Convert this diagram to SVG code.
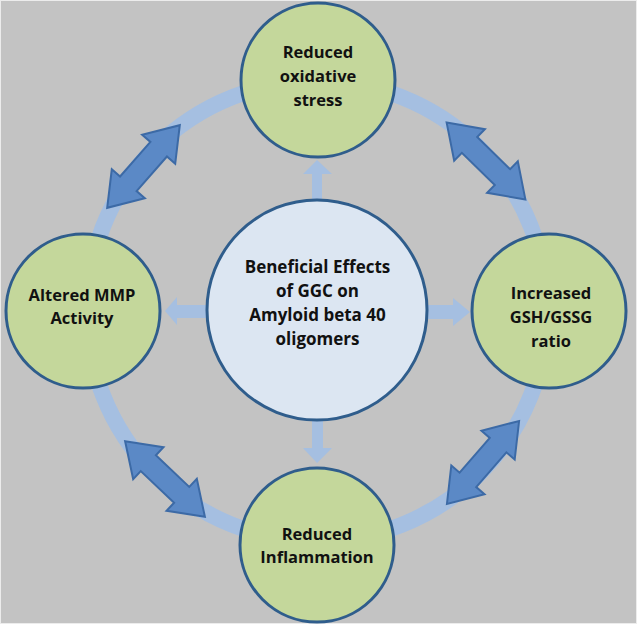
<svg xmlns="http://www.w3.org/2000/svg" width="638" height="625" viewBox="0 0 638 625">
  <defs>
    <style>
      .node { stroke: #2f5d8c; stroke-width: 3; }
      .green { fill: #c4d79b; }
      .center { fill: #dce6f2; }
      .lbl { font-family: "Open Sans", "Noto Sans", "Liberation Sans", sans-serif; font-weight: bold; fill: #111; text-anchor: middle; }
      .small { font-size: 16.5px; }
      .big { font-size: 17px; }
      .light { fill: #a5bfe1; }
      .dbl { fill: #5b89c6; stroke: #3c6aa6; stroke-width: 2; stroke-linejoin: miter; }
    </style>
    <path id="dblarrow" d="M -55 0 L -23 -22 L -23 -11 L 23 -11 L 23 -22 L 55 0 L 23 22 L 23 11 L -23 11 L -23 22 Z"/>
  </defs>

  <rect x="0.5" y="0.5" width="636" height="623" fill="#c3c3c3" stroke="#ececec" stroke-width="1"/>

  <g id="connectors">
    <circle cx="317" cy="311" r="230" fill="none" stroke="#a5bfe1" stroke-width="16"/>
    <path class="light" d="M 312 200 L 312 174 L 303 174 L 317 160 L 332 174 L 322 174 L 322 200 Z"/>
    <path class="light" d="M 312 420 L 312 448 L 303 448 L 317 463 L 332 448 L 323 448 L 323 420 Z"/>
    <path class="light" d="M 208 305 L 177 305 L 177 297 L 165 311 L 177 325 L 177 318 L 208 318 Z"/>
    <path class="light" d="M 426 305 L 453 305 L 453 298 L 470 312 L 453 326 L 453 319 L 426 319 Z"/>
    <use href="#dblarrow" class="dbl" transform="translate(143.5,166.5) rotate(-48.7)"/>
    <use href="#dblarrow" class="dbl" transform="translate(486,161) rotate(44.3)"/>
    <use href="#dblarrow" class="dbl" transform="translate(165,479) rotate(43.5)"/>
    <use href="#dblarrow" class="dbl" transform="translate(483,462.5) rotate(-49)"/>
  </g>

  <g id="node-top">
    <circle class="node green" cx="318" cy="80" r="77"/>
    <text class="lbl small" x="318" y="58">Reduced</text>
    <text class="lbl small" x="318" y="82">oxidative</text>
    <text class="lbl small" x="318" y="106">stress</text>
  </g>

  <g id="node-left">
    <circle class="node green" cx="83" cy="311" r="77"/>
    <text class="lbl small" x="82" y="301">Altered MMP</text>
    <text class="lbl small" x="82" y="324">Activity</text>
  </g>

  <g id="node-right">
    <circle class="node green" cx="549" cy="311" r="77"/>
    <text class="lbl small" x="551" y="299">Increased</text>
    <text class="lbl small" x="551" y="323">GSH/GSSG</text>
    <text class="lbl small" x="551" y="347">ratio</text>
  </g>

  <g id="node-bottom">
    <circle class="node green" cx="317" cy="545" r="77"/>
    <text class="lbl small" x="317" y="540">Reduced</text>
    <text class="lbl small" x="317" y="563">Inflammation</text>
  </g>

  <g id="node-center">
    <circle class="node center" cx="317" cy="310" r="110"/>
    <text class="lbl big" x="317.5" y="273">Beneficial Effects</text>
    <text class="lbl big" x="317.5" y="297">of GGC on</text>
    <text class="lbl big" x="317.5" y="321">Amyloid beta 40</text>
    <text class="lbl big" x="317.5" y="345">oligomers</text>
  </g>
</svg>
